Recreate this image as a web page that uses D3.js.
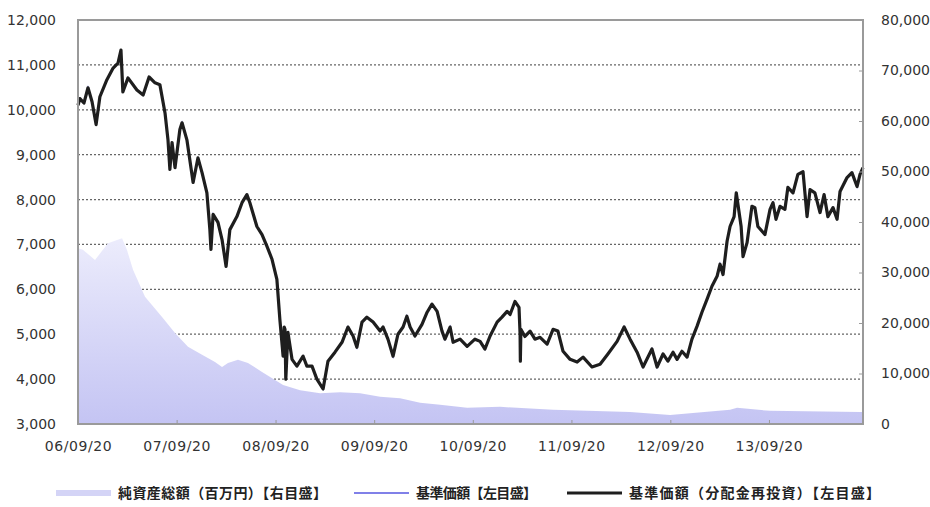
<!DOCTYPE html>
<html>
<head>
<meta charset="utf-8">
<script src="https://cdn.jsdelivr.net/npm/d3@7"></script>
<style>
  body { margin: 0; background: #fff; }
  text { font-family: "DejaVu Sans", sans-serif; }
</style>
</head>
<body>
<div id="container"></div>
<script>
const w = 930
const h = 507
const plotLeft = 78
const plotRight = 863
const plotTop = 20
const plotBottom = 424

// 基準価額（分配金再投資）, left axis
const navDates = ['2006-09-20','2006-09-27','2006-10-12','2006-10-27','2006-11-11','2006-11-26','2006-12-10','2007-01-05','2007-01-28','2007-02-15',
  '2007-02-26','2007-03-05','2007-03-24','2007-04-26','2007-05-19','2007-06-10','2007-07-02','2007-07-20','2007-08-08','2007-08-19',
  '2007-08-26','2007-09-03','2007-09-14','2007-10-02','2007-10-10','2007-10-28','2007-11-20','2007-12-08','2007-12-23','2008-01-10',
  '2008-01-21','2008-01-25','2008-02-02','2008-02-20','2008-03-06','2008-03-21','2008-04-04','2008-04-30','2008-05-19','2008-06-06',
  '2008-06-17','2008-07-13','2008-08-01','2008-08-19','2008-09-07','2008-09-25','2008-10-06','2008-10-18','2008-10-22','2008-10-25',
  '2008-10-28','2008-11-05','2008-11-20','2008-12-08','2008-12-31','2009-01-14','2009-02-02','2009-02-20','2009-03-15','2009-04-02',
  '2009-04-28','2009-05-24','2009-06-15','2009-07-04','2009-07-18','2009-08-06','2009-08-24','2009-09-16','2009-10-12','2009-10-23',
  '2009-11-10','2009-11-29','2009-12-17','2010-01-05','2010-01-19','2010-01-31','2010-02-18','2010-03-16','2010-04-04','2010-04-22',
  '2010-05-11','2010-05-29','2010-06-09','2010-06-28','2010-07-09','2010-08-04','2010-08-30','2010-09-28','2010-10-17','2010-11-04',
  '2010-11-23','2010-12-19','2011-01-06','2011-01-25','2011-02-05','2011-02-23','2011-03-10','2011-03-14','2011-03-15','2011-03-17',
  '2011-04-01','2011-04-20','2011-05-08','2011-05-27','2011-06-22','2011-07-14','2011-08-01','2011-08-20','2011-09-15','2011-10-11',
  '2011-11-02','2011-12-05','2012-01-04','2012-02-02','2012-03-07','2012-04-02','2012-04-24','2012-05-20','2012-06-11','2012-07-14',
  '2012-08-02','2012-08-24','2012-09-11','2012-09-30','2012-10-15','2012-11-02','2012-11-21','2012-12-09','2012-12-28','2013-01-15',
  '2013-02-03','2013-02-21','2013-03-12','2013-03-23','2013-04-03','2013-04-18','2013-04-29','2013-05-14','2013-05-22','2013-06-09',
  '2013-06-16','2013-07-01','2013-07-19','2013-07-30','2013-08-10','2013-09-05','2013-09-24','2013-10-05','2013-10-16','2013-10-31',
  '2013-11-18','2013-11-29','2013-12-18','2014-01-05','2014-01-24','2014-02-08','2014-02-19','2014-03-09','2014-03-28','2014-04-12',
  '2014-04-26','2014-05-15','2014-05-30','2014-06-10','2014-07-06','2014-07-24','2014-08-12','2014-08-23','2014-09-03']
const navValues = [10100,10250,10150,10490,10180,9670,10290,10670,10930,11040,
  11330,10400,10710,10440,10330,10730,10600,10560,9930,9330,
  8670,9270,8710,9560,9710,9330,8380,8930,8600,8150,
  7330,6890,7670,7490,7110,6510,7330,7620,7930,8110,
  7930,7400,7220,6960,6670,6220,5330,4510,5160,5110,
  4000,5040,4440,4290,4510,4290,4290,4000,3780,4400,
  4600,4820,5160,4960,4710,5270,5380,5270,5070,5160,
  4890,4510,5000,5160,5400,5160,4960,5220,5490,5670,
  5510,5070,4890,5160,4820,4890,4730,4890,4840,4670,
  4960,5270,5380,5510,5440,5730,5600,5000,4400,5110,
  4950,5070,4890,4930,4780,5110,5070,4620,4440,4380,
  4490,4270,4330,4560,4840,5160,4890,4600,4270,4670,
  4270,4560,4400,4600,4440,4620,4490,4890,5180,5490,
  5780,6070,6290,6560,6330,7070,7400,7620,8150,7400,
  6730,7040,7850,7820,7400,7220,7780,7930,7560,7850,
  7780,8270,8150,8560,8620,7620,8220,8150,7710,8110,
  7620,7820,7560,8180,8490,8600,8290,8560,8710]

// 純資産総額（百万円）, right axis
const assetDates = ['2006-09-20','2006-10-08','2006-11-22','2007-01-09','2007-03-02','2007-03-20','2007-04-12','2007-05-26','2007-07-28','2007-09-14',
  '2007-11-01','2007-12-23','2008-02-09','2008-03-06','2008-03-28','2008-05-04','2008-06-10','2008-08-01','2008-09-18','2008-10-18',
  '2008-12-20','2009-03-04','2009-05-17','2009-07-30','2009-10-12','2009-12-25','2010-03-09','2010-05-22','2010-08-30','2010-12-30',
  '2011-07-14','2012-04-24','2012-09-19','2013-04-29','2013-05-25','2013-09-24','2014-08-23','2014-09-03']
const assetValues = [34800,34500,32500,35800,36800,34500,30500,25200,21200,18000,
  15300,13700,12300,11300,12100,12700,12100,10300,8700,7700,
  6700,6100,6300,6100,5400,5100,4200,3800,3200,3400,
  2800,2400,1800,2800,3200,2600,2400,2400]

const leftTicks = [3000,4000,5000,6000,7000,8000,9000,10000,11000,12000]
const rightTicks = [0,10000,20000,30000,40000,50000,60000,70000,80000]
const xTicks = ['2006-09-20','2007-09-20','2008-09-20','2009-09-20','2010-09-20','2011-09-20','2012-09-20','2013-09-20']
const legendLabels = ['純資産総額（百万円）【右目盛】','基準価額【左目盛】','基準価額（分配金再投資）【左目盛】']

const parse = d3.timeParse('%Y-%m-%d')
const nav = navDates.map((d, i) => ({ date: parse(d), value: navValues[i] }))
const assets = assetDates.map((d, i) => ({ date: parse(d), value: assetValues[i] }))

const svg = d3.select('#container')
              .append('svg')
              .attr('width', w)
              .attr('height', h)

const defs = svg.append('defs')
const grad = defs.append('linearGradient')
                 .attr('id', 'areaFill')
                 .attr('x1', 0).attr('y1', 0).attr('x2', 0).attr('y2', 1)
grad.append('stop').attr('offset', '0%').attr('stop-color', '#ececfc')
grad.append('stop').attr('offset', '100%').attr('stop-color', '#c4c4f3')

// Scales
const xScale = d3.scaleTime()
                 .domain([parse('2006-09-20'), parse('2014-09-03')])
                 .range([plotLeft, plotRight])
const yLeft = d3.scaleLinear().domain([3000, 12000]).range([plotBottom, plotTop])
const yRight = d3.scaleLinear().domain([0, 80000]).range([plotBottom, plotTop])

// Gridlines
svg.append('g')
   .selectAll('line')
   .data(leftTicks.slice(1, -1))
   .enter()
   .append('line')
   .attr('x1', plotLeft).attr('x2', plotRight)
   .attr('y1', d => yLeft(d)).attr('y2', d => yLeft(d))
   .attr('stroke', '#666')
   .attr('stroke-width', 1.3)
   .attr('stroke-dasharray', '2,2')

// Net assets area
const area = d3.area()
               .x(d => xScale(d.date))
               .y0(plotBottom)
               .y1(d => yRight(d.value))
svg.append('path')
   .datum(assets)
   .attr('d', area)
   .attr('fill', 'url(#areaFill)')

// Lines
const line = d3.line()
               .x(d => xScale(d.date))
               .y(d => yLeft(d.value))
svg.append('path')
   .datum(nav)
   .attr('d', line)
   .attr('fill', 'none')
   .attr('stroke', '#8080e8')
   .attr('stroke-width', 1.5)
svg.append('path')
   .datum(nav)
   .attr('d', line)
   .attr('fill', 'none')
   .attr('stroke', '#1e1e1e')
   .attr('stroke-width', 3.2)
   .attr('stroke-linejoin', 'round')

// Frame
svg.append('rect')
   .attr('x', plotLeft).attr('y', plotTop)
   .attr('width', plotRight - plotLeft).attr('height', plotBottom - plotTop)
   .attr('fill', 'none')
   .attr('stroke', '#9a9a9a')
   .attr('stroke-width', 2)

// Axes
const fmt = d3.format(',')
const axisLeft = d3.axisLeft(yLeft).tickValues(leftTicks).tickFormat(fmt).tickSize(0).tickPadding(22)
const axisRight = d3.axisRight(yRight).tickValues(rightTicks).tickFormat(fmt).tickSize(-4).tickPadding(18)
const axisBottom = d3.axisBottom(xScale).tickValues(xTicks.map(parse)).tickFormat(d3.timeFormat('%y/%m/%d')).tickSize(-4).tickPadding(14)

const gl = svg.append('g').attr('transform', 'translate(' + plotLeft + ',0)').call(axisLeft)
const gr = svg.append('g').attr('transform', 'translate(' + plotRight + ',0)').call(axisRight)
const gb = svg.append('g').attr('transform', 'translate(0,' + plotBottom + ')').call(axisBottom)
;[gl, gr, gb].forEach(g => {
  g.select('.domain').remove()
  g.selectAll('line').attr('stroke', '#9a9a9a')
  g.selectAll('text')
   .attr('fill', '#333')
   .style('font-size', '14px')
   .style('font-family', '"DejaVu Sans", sans-serif')
})
gb.selectAll('text').attr('dy', '0.9em').style('letter-spacing', '0.6px')

// Legend
const legendItems = [
  { label: legendLabels[0], x: 56, len: 209, color: '#d4d4f6', width: 6 },
  { label: legendLabels[1], x: 354, len: 121, color: '#8080e8', width: 2 },
  { label: legendLabels[2], x: 567, len: 251, color: '#1e1e1e', width: 3 }
]
const legend = svg.append('g').attr('transform', 'translate(0,493)')
legendItems.forEach(item => {
  legend.append('line')
        .attr('x1', item.x).attr('x2', item.x + 55)
        .attr('y1', 0).attr('y2', 0)
        .attr('stroke', item.color)
        .attr('stroke-width', item.width)
  legend.append('text')
        .attr('x', item.x + 62)
        .attr('y', 0)
        .attr('dy', '0.35em')
        .attr('fill', '#222')
        .attr('textLength', item.len)
        .attr('lengthAdjust', 'spacing')
        .style('font-family', '"Noto Sans CJK JP", sans-serif')
        .style('font-size', '14px')
        .style('font-weight', 'bold')
        .text(item.label)
})
</script>
</body>
</html>
